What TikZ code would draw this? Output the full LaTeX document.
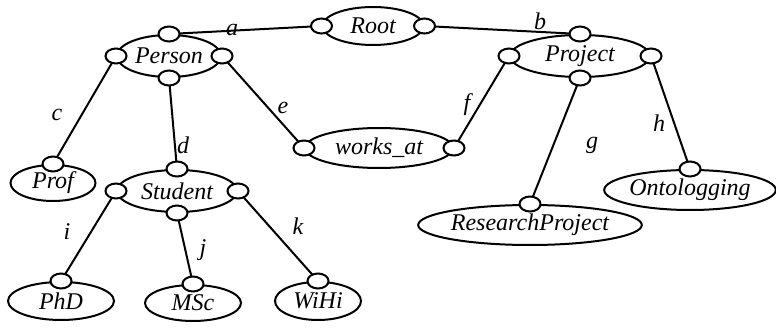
\documentclass[tikz,border=0pt]{standalone}
\usepackage{fontspec}
\setmainfont{Liberation Serif}
\newfontfamily\diagfont{Liberation Serif}[ItalicFont={Liberation Serif Italic}]
\usetikzlibrary{shapes.geometric}
\pgfdeclarelayer{bg}
\pgfsetlayers{bg,main}
\begin{document}
\begin{tikzpicture}[x=1pt,y=-1pt,
  font=\diagfont\fontsize{24}{28}\selectfont\itshape,
  concept/.style={ellipse,draw,line width=2pt,inner sep=0pt,fill=white},
  port/.style={ellipse,draw,line width=2pt,fill=white,inner sep=0pt,minimum width=21pt,minimum height=15pt},
  link/.style={line width=2pt},
  lab/.style={inner sep=0pt}]
\useasboundingbox (0,0) rectangle (776,331);
% concepts
\node[concept,minimum width=101pt,minimum height=38pt] (root) at (373,26) {Root};
\node[concept,minimum width=104pt,minimum height=42pt] (person) at (169,56) {Person};
\node[concept,minimum width=140pt,minimum height=42pt] (project) at (580,56) {Project};
\node[concept,minimum width=148pt,minimum height=40pt] (works) at (379,148) {works\_at};
\node[concept,minimum width=85pt,minimum height=36pt] (prof) at (53,183) {Prof};
\node[concept,minimum width=120pt,minimum height=42pt] (student) at (177,191) {Student};
\node[concept,minimum width=218pt,minimum height=40pt] (research) at (530,225) {ResearchProject};
\node[concept,minimum width=168pt,minimum height=40pt] (onto) at (690,190) {Ontologging};
\node[concept,minimum width=106pt,minimum height=38pt] (phd) at (61,301) {PhD};
\node[concept,minimum width=96pt,minimum height=36pt] (msc) at (193,303) {MSc};
\node[concept,minimum width=86pt,minimum height=38pt] (wihi) at (318,301) {WiHi};
% ports
\node[port] (rootW) at (root.west) {};
\node[port] (rootE) at (root.east) {};
\node[port] (personN) at (person.north) {};
\node[port] (personW) at (person.west) {};
\node[port] (personE) at (person.east) {};
\node[port] (personS) at (person.south) {};
\node[port] (projectN) at (project.north) {};
\node[port] (projectW) at (project.west) {};
\node[port] (projectE) at (project.east) {};
\node[port] (projectS) at (project.south) {};
\node[port] (worksW) at (works.west) {};
\node[port] (worksE) at (works.east) {};
\node[port] (profN) at (prof.north) {};
\node[port] (studentN) at (student.north) {};
\node[port] (studentW) at (student.west) {};
\node[port] (studentE) at (student.east) {};
\node[port] (studentS) at (student.south) {};
\node[port] (researchN) at (research.north) {};
\node[port] (ontoN) at (onto.north) {};
\node[port] (phdN) at (phd.north) {};
\node[port] (mscN) at (msc.north) {};
\node[port] (wihiN) at (wihi.north) {};
% links
\begin{pgfonlayer}{bg}
\draw[link] (rootW.center) -- (personN.center);
\draw[link] (rootE.center) -- (projectN.center);
\draw[link] (personW.center) -- (profN.center);
\draw[link] (personS.center) -- (studentN.center);
\draw[link] (personE.center) -- (worksW.center);
\draw[link] (projectW.center) -- (worksE.center);
\draw[link] (projectS.center) -- (researchN.center);
\draw[link] (projectE.center) -- (ontoN.center);
\draw[link] (studentW.center) -- (phdN.center);
\draw[link] (studentS.center) -- (mscN.center);
\draw[link] (studentE.center) -- (wihiN.center);
\end{pgfonlayer}
% labels
\node[lab] (la) at (232,30) {a};
\node[lab] (lb) at (540,21) {b};
\node[lab] (lc) at (57,115) {c};
\node[lab] (ld) at (183,145) {d};
\node[lab] (le) at (283,108) {e};
\node[lab] (lf) at (467,105) {f};
\node[lab] (lg) at (592,145) {g};
\node[lab] (lh) at (659,123) {h};
\node[lab] (li) at (67,232) {i};
\node[lab] (lj) at (203,250) {j};
\node[lab] (lk) at (298,226) {k};
\end{tikzpicture}
\end{document}
